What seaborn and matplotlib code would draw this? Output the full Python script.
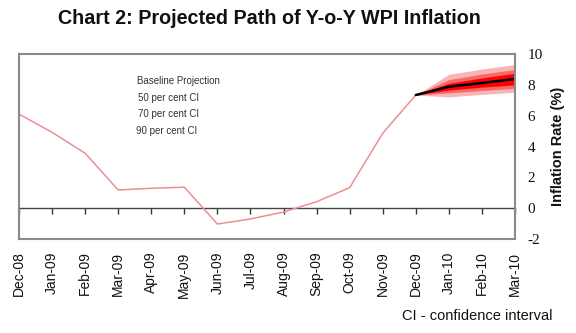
import numpy as np
import pandas as pd
import matplotlib
matplotlib.use("Agg")
import matplotlib.pyplot as plt
import seaborn as sns

# ---- data ----
months = ["Dec-08", "Jan-09", "Feb-09", "Mar-09", "Apr-09", "May-09", "Jun-09",
          "Jul-09", "Aug-09", "Sep-09", "Oct-09", "Nov-09", "Dec-09",
          "Jan-10", "Feb-10", "Mar-10"]
actual = [6.1, 4.92, 3.56, 1.18, 1.29, 1.36, -1.03, -0.7, -0.25, 0.42, 1.33,
          4.86, 7.34]
proj_months = ["Dec-09", "Jan-10", "Feb-10", "Mar-10"]
baseline = [7.34, 7.88, 8.12, 8.38]
lo90 = [7.34, 7.22, 7.38, 7.52]
hi90 = [7.34, 8.68, 9.02, 9.32]
lo70 = [7.34, 7.48, 7.63, 7.78]
hi70 = [7.34, 8.34, 8.70, 9.00]
lo50 = [7.34, 7.66, 7.85, 8.00]
hi50 = [7.34, 8.10, 8.45, 8.75]
yticks = [-2, 0, 2, 4, 6, 8, 10]
legend_labels = ["Baseline Projection", "50 per cent CI", "70 per cent CI", "90 per cent CI"]

sns.set_style("white")
plt.rcParams["font.family"] = ["Liberation Sans", "DejaVu Sans"]

pos = {m: i for i, m in enumerate(months)}
df_hist = pd.DataFrame({"x": [pos[m] for m in months[:len(actual)]], "y": actual})
px = [pos[m] for m in proj_months]
df_proj = pd.DataFrame({"x": px, "y": baseline})

fig = plt.figure(figsize=(5.76, 3.33), dpi=100)
fig.patch.set_facecolor("white")
ax = fig.add_axes([19/576, 1-239/333, (515-19)/576, (239-54)/333])

# fan
ax.fill_between(px, lo90, hi90, color="#f9b4b4", linewidth=0)
ax.fill_between(px, lo70, hi70, color="#f56a6a", linewidth=0)
ax.fill_between(px, lo50, hi50, color="#ff0000", linewidth=0)

sns.lineplot(data=df_hist, x="x", y="y", ax=ax, color="#ec8f95", linewidth=1.1)
sns.lineplot(data=df_proj, x="x", y="y", ax=ax, color="black", linewidth=1.8)

ax.set_xlim(0, len(months) - 1)
ax.set_ylim(-2, 10)
ax.set_xticks(range(len(months)))
ax.set_xticklabels(months, rotation=90, fontsize=10, color="#111111")
ax.tick_params(axis="x", length=0, pad=9)
ax.set_xlabel("")

ax.yaxis.tick_right()
ax.yaxis.set_label_position("right")
ax.set_yticks(yticks)
ax.set_yticklabels([str(v) for v in yticks], family=["Liberation Serif", "DejaVu Serif"],
                   fontsize=11, color="#111111")
ax.tick_params(axis="y", length=0, pad=9)
ax.set_ylabel("Inflation Rate (%)", fontsize=10.5, fontweight="bold", labelpad=6,
              rotation=90, color="#111111")

for s in ax.spines.values():
    s.set_color("#8a8a8a")
    s.set_linewidth(1.5)
    s.set_visible(True)

# zero line with tick marks
ylo, yhi = ax.get_ylim()
sec = ax.secondary_xaxis((0 - ylo) / (yhi - ylo))
sec.set_xticks(range(len(months)))
sec.set_xticklabels([])
sec.tick_params(axis="x", direction="out", length=4, width=1, color="#333333")
sec.spines["bottom"].set_color("#444444")
sec.spines["bottom"].set_linewidth(1)

# legend-like texts
ly = [80.7, 98, 114, 131]
lx = [137, 138, 138, 136]
for t, x, y in zip(legend_labels, lx, ly):
    fig.text(x/576, 1 - y/333, t, fontsize=7, color="#333333", va="center", ha="left")

fig.text(269/576, 1 - 18/333, "Chart 2: Projected Path of Y-o-Y WPI Inflation",
         fontsize=14.2, fontweight="bold", ha="center", va="center", color="#111111")
fig.text(553/576, 1 - 316/333, "CI - confidence interval", fontsize=10.5,
         ha="right", va="center", color="#111111")

fig.savefig("out.png", dpi=100, facecolor="white")
